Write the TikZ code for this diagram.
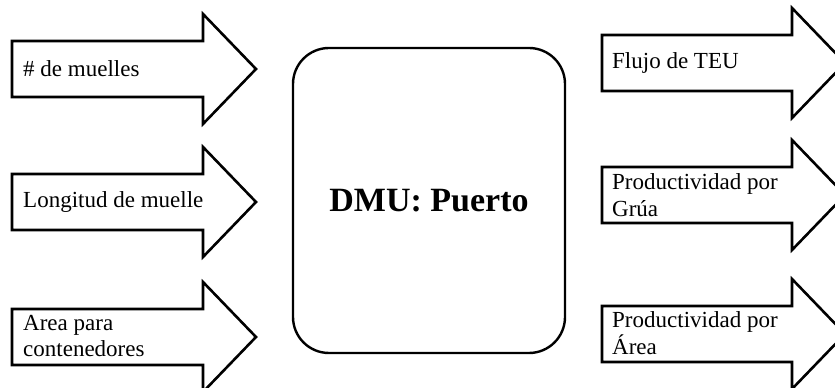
\documentclass[tikz,border=0pt]{standalone}
\usepackage{fontspec}
\setmainfont{Liberation Serif}
\newcommand\myarrow[4]{\draw[arrowshape] (#1,#4+28) -- (#2,#4+28) -- (#2,#4+55) -- (#3,#4) -- (#2,#4-55) -- (#2,#4-28) -- (#1,#4-28) -- cycle;}
\begin{document}
\begin{tikzpicture}[x=1pt,y=1pt,
  arrowshape/.style={draw=black, line width=2.6pt, line join=miter, fill=white},
  lbl/.style={anchor=west, inner sep=0pt, align=left, font=\fontsize{23}{26.5}\selectfont},
  dmubox/.style={draw=black, line width=2.4pt, rounded corners=36pt, minimum width=272pt, minimum height=305pt, font=\fontsize{34}{40}\selectfont\bfseries}]
\useasboundingbox (0,0) rectangle (835,388);
\clip (0,0) rectangle (835,388);
% input arrows
\myarrow{12}{203}{256}{319}
\myarrow{12}{203}{256}{186}
\myarrow{12}{203}{256}{51}
% output arrows
\myarrow{602}{792}{845}{325}
\myarrow{602}{792}{845}{193}
\myarrow{602}{792}{845}{54}
% labels
\node[lbl] (in1) at (23,319) {\# de muelles};
\node[lbl] (in2) at (23,186) {Longitud de muelle};
\node[lbl] (in3) at (23,52) {Area para\\contenedores};
\node[lbl] (out1) at (612,325) {Flujo de TEU};
\node[lbl] (out2) at (612,193) {Productividad por\\Grúa};
\node[lbl] (out3) at (612,55) {Productividad por\\Área};
% central box
\node[dmubox] (dmu) at (429,187.5) {DMU: Puerto};
\end{tikzpicture}
\end{document}
